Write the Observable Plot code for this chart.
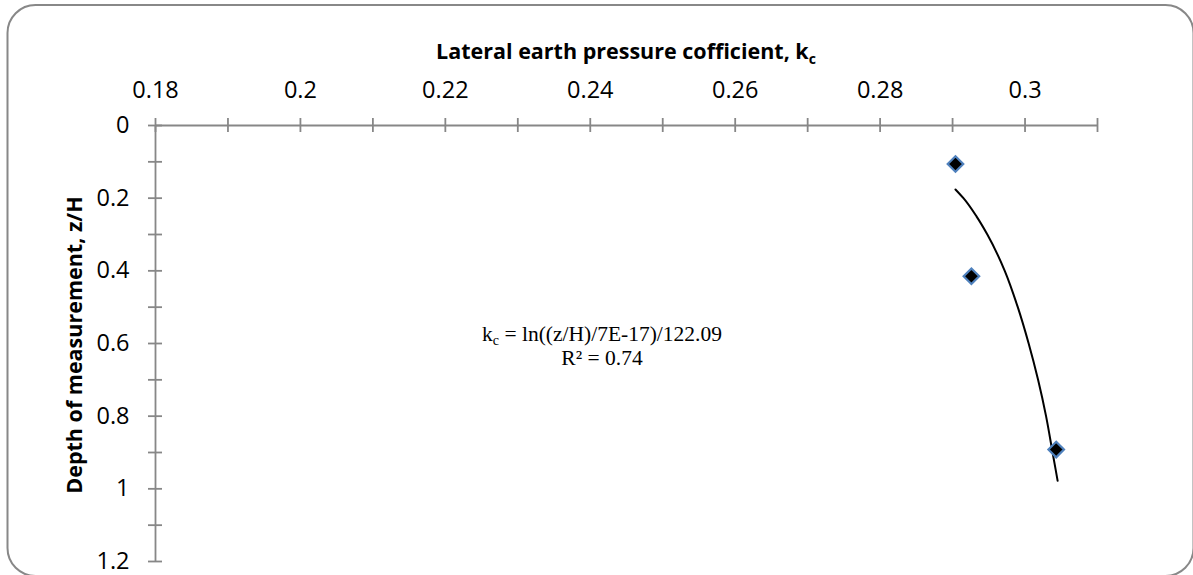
<!DOCTYPE html>
<html>
<head>
<meta charset="utf-8">
<script src="https://cdn.jsdelivr.net/npm/d3@7"></script>
<script src="https://cdn.jsdelivr.net/npm/@observablehq/plot@0.6"></script>
<style>
  html, body { margin: 0; padding: 0; background: #fff; }
  #chart { position: relative; width: 1193px; height: 575px; overflow: hidden; background: #fff; }
  #chart svg { display: block; }
</style>
</head>
<body>
<div id="chart"></div>
<script>
// ---- data ----
const xTickValues = [0.18, 0.2, 0.22, 0.24, 0.26, 0.28, 0.3];
const xTickLabels = ["0.18", "0.2", "0.22", "0.24", "0.26", "0.28", "0.3"];
const xMinorTicks = [0.18, 0.19, 0.2, 0.21, 0.22, 0.23, 0.24, 0.25, 0.26, 0.27, 0.28, 0.29, 0.3, 0.31];
const yTickValues = [0, 0.2, 0.4, 0.6, 0.8, 1, 1.2];
const yTickLabels = ["0", "0.2", "0.4", "0.6", "0.8", "1", "1.2"];
const yMinorTicks = [0, 0.1, 0.2, 0.3, 0.4, 0.5, 0.6, 0.7, 0.8, 0.9, 1, 1.1, 1.2];

// measured points: lateral earth pressure coefficient vs depth z/H
const kcValues = [0.2904, 0.2926, 0.3043];
const depthValues = [0.106, 0.415, 0.892];

// trendline
const trendKc = [0.2904, 0.2915, 0.2933, 0.2948, 0.2972, 0.2990, 0.3005, 0.3018, 0.3029, 0.3038, 0.3045];
const trendDepth = [0.176, 0.20, 0.25, 0.30, 0.40, 0.50, 0.60, 0.70, 0.80, 0.90, 0.978];

const xTitle = "Lateral earth pressure cofficient, k";
const xTitleSub = "c";
const yTitle = "Depth of measurement, z/H";
const eqLine1Main = "k";
const eqLine1Sub = "c";
const eqLine1Rest = " = ln((z/H)/7E-17)/122.09";
const eqLine2 = "R² = 0.74";

// ---- tables ----
const xTicks = xTickValues.map((v, i) => ({v, label: xTickLabels[i]}));
const yTicks = yTickValues.map((v, i) => ({v, label: yTickLabels[i]}));
const points = kcValues.map((k, i) => ({kc: k, depth: depthValues[i]}));
const trend = trendKc.map((k, i) => ({kc: k, depth: trendDepth[i]}));

const axisColor = "#878787";
const xDomain = [0.18, 0.31];
const yDomain = [0, 1.2];

const svg = Plot.plot({
  width: 1193,
  height: 575,
  marginLeft: 155,
  marginRight: 96,
  marginTop: 125,
  marginBottom: 14,
  x: {domain: xDomain, axis: null},
  y: {domain: yDomain, reverse: true, axis: null},
  style: {fontFamily: "'Open Sans', sans-serif", background: "transparent", overflow: "visible"},
  marks: [
    // axis lines
    Plot.ruleY([0], {x1: xDomain[0], x2: xDomain[1], stroke: axisColor, strokeWidth: 1.8}),
    Plot.ruleX([xDomain[0]], {y1: yDomain[0], y2: yDomain[1], stroke: axisColor, strokeWidth: 1.8}),
    // crossing ticks
    Plot.ruleX(xMinorTicks, {x: d => d, y1: 0, y2: 0, insetTop: -7, insetBottom: -7, stroke: axisColor, strokeWidth: 1.8}),
    Plot.ruleY(yMinorTicks, {y: d => d, x1: xDomain[0], x2: xDomain[0], insetLeft: -7, insetRight: -7, stroke: axisColor, strokeWidth: 1.8}),
    // tick labels
    Plot.text(xTicks, {x: "v", y: 0, text: "label", dy: -35, fontSize: 23.5, fill: "#000"}),
    Plot.text(yTicks, {x: xDomain[0], y: "v", text: "label", dx: -26, textAnchor: "end", fontSize: 23.5, fill: "#000"}),
    // trendline
    Plot.line(trend, {x: "kc", y: "depth", curve: "monotone-y", stroke: "#000", strokeWidth: 2}),
    // data points
    Plot.dot(points, {x: "kc", y: "depth", symbol: "diamond2", r: 7, fill: "#000", stroke: "#4f81bd", strokeWidth: 2.2})
  ]
});

const s = d3.select(svg);
// outer rounded frame
s.insert("rect", ":first-child")
  .attr("x", 7.5).attr("y", 5).attr("width", 1186).attr("height", 571).attr("rx", 28)
  .attr("fill", "#fff").attr("stroke", "#888").attr("stroke-width", 2);

// x title
const xt = s.append("text")
  .attr("x", 626).attr("y", 59)
  .attr("text-anchor", "middle")
  .attr("font-family", "'Open Sans', sans-serif")
  .attr("font-weight", "bold")
  .attr("font-size", 21.5)
  .attr("fill", "#000");
xt.append("tspan").text(xTitle);
xt.append("tspan").attr("dy", 5).attr("font-size", 14).text(xTitleSub);

// y title
s.append("text")
  .attr("transform", "translate(73,345) rotate(-90)")
  .attr("text-anchor", "middle")
  .attr("dominant-baseline", "central")
  .attr("font-family", "'Open Sans', sans-serif")
  .attr("font-weight", "bold")
  .attr("font-size", 21.5)
  .attr("fill", "#000")
  .text(yTitle);

// equation annotation
const eq = s.append("text")
  .attr("x", 602).attr("y", 341)
  .attr("text-anchor", "middle")
  .attr("font-family", "'Liberation Serif', 'Times New Roman', serif")
  .attr("font-size", 21.5)
  .attr("fill", "#000");
eq.append("tspan").text(eqLine1Main);
eq.append("tspan").attr("dy", 4).attr("font-size", 14).text(eqLine1Sub);
eq.append("tspan").attr("dy", -4).text(eqLine1Rest);
s.append("text")
  .attr("x", 602).attr("y", 365)
  .attr("text-anchor", "middle")
  .attr("font-family", "'Liberation Serif', 'Times New Roman', serif")
  .attr("font-size", 21.5)
  .attr("fill", "#000")
  .text(eqLine2);

document.getElementById("chart").appendChild(svg);
</script>
</body>
</html>
